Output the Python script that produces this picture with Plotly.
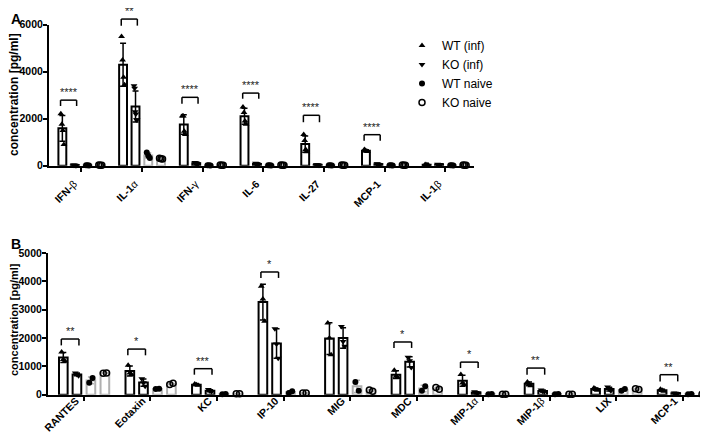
import numpy as np
import plotly.graph_objects as go

# Panel A - cytokines
cats_a = ["IFN-β", "IL-1α", "IFN-γ", "IL-6", "IL-27", "MCP-1", "IL-1β"]
ticks_a = ["<b>IFN-</b>β", "<b>IL-1</b>α", "<b>IFN-</b>γ", "<b>IL-6</b>",
           "<b>IL-27</b>", "<b>MCP-1</b>", "<b>IL-1</b>β"]
wt_inf_a = [[2210, 1760, 1500, 900], [5500, 4500, 3760, 3440], [2110, 2110, 1470, 1330],
            [2500, 2260, 1900, 1760], [1330, 1070, 690, 590], [690, 650, 620, 600],
            [50, 40, 35, 30]]
ko_inf_a = [[25, 20, 18, 15, 12, 10], [3400, 3300, 2300, 2200, 1950, 1950],
            [140, 120, 110, 100, 80, 60], [100, 90, 80, 70, 60, 50],
            [40, 35, 30, 25, 20, 20], [80, 70, 60, 55, 50, 45], [60, 55, 50, 45, 40, 40]]
wt_naive_a = [[20, 15, 10], [560, 420, 330], [20, 15, 10], [20, 15, 10],
              [20, 15, 10], [20, 15, 10], [20, 15, 10]]
ko_naive_a = [[25, 20, 15], [320, 300, 280], [25, 20, 15], [25, 20, 15],
              [25, 20, 15], [25, 20, 15], [25, 20, 15]]
# (category index, label, bracket top, bracket leg end)
sig_a = [(0, "****", 2790, 2540), (1, "**", 6240, 5960), (2, "****", 2910, 2640),
         (3, "****", 3090, 2850), (4, "****", 2145, 1850), (5, "****", 1320, 1065)]

# Panel B - chemokines
cats_b = ["RANTES", "Eotaxin", "KC", "IP-10", "MIG", "MDC", "MIP-1α", "MIP-1β", "LIX", "MCP-1"]
ticks_b = ["<b>RANTES</b>", "<b>Eotaxin</b>", "<b>KC</b>", "<b>IP-10</b>", "<b>MIG</b>",
           "<b>MDC</b>", "<b>MIP-1</b>α", "<b>MIP-1</b>β", "<b>LIX</b>", "<b>MCP-1</b>"]
wt_inf_b = [[1510, 1240, 1180], [1040, 770, 710], [380, 350, 330], [3830, 3380, 2590],
            [2530, 2000, 1410], [860, 650, 610], [710, 410, 350], [450, 380, 320],
            [240, 200, 160], [190, 160, 120]]
ko_inf_b = [[770, 710, 670], [560, 420, 300], [180, 130, 110], [2330, 1790, 1290],
            [2410, 1880, 1710], [1320, 1200, 960], [100, 80, 60], [165, 120, 100],
            [270, 190, 140], [60, 50, 40]]
wt_naive_b = [[420, 590], [200, 210], [20, 25], [60, 120], [450, 140], [140, 300],
              [20, 25], [20, 25], [140, 200], [20, 25]]
ko_naive_b = [[760, 770], [360, 400], [30, 35], [60, 60], [170, 120], [250, 190],
              [20, 20], [20, 20], [210, 180], [20, 20]]
sig_b = [(0, "**", 1965, 1740), (1, "*", 1610, 1390), (2, "***", 918, 706),
         (3, "*", 4330, 4120), (5, "*", 1860, 1650), (6, "*", 1150, 940),
         (7, "**", 940, 706), (9, "**", 706, 470)]

names = ["WT (inf)", "KO (inf)", "WT naive", "KO naive"]

W, H = 708, 433
FONT = "Arial, Liberation Sans, sans-serif"
offsets = [-0.31, -0.105, 0.105, 0.315]
symbols = ["triangle-up", "triangle-down", "circle", "circle-open"]
edge = ["black", "black", "#b0b0b0", "#b0b0b0"]

fig = go.Figure()


def add_panel(groups, xa, ya, legend):
    for g, pts in enumerate(groups):
        x = np.arange(len(pts)) + offsets[g]
        means = [np.mean(p) for p in pts]
        sds = [np.std(p, ddof=1) for p in pts]
        fig.add_trace(go.Bar(
            x=x, y=means, width=0.13, xaxis=xa, yaxis=ya, showlegend=False,
            marker=dict(color="white", line=dict(color=edge[g], width=2)),
            error_y=dict(type="data", array=sds, color=edge[g], thickness=1.5, width=3)))
        px, py = [], []
        for i, p in enumerate(pts):
            spread = np.linspace(-0.025, 0.025, len(p))
            px += list(i + offsets[g] + spread)
            py += list(p)
        fig.add_trace(go.Scatter(
            x=px, y=py, mode="markers", name=names[g], xaxis=xa, yaxis=ya,
            showlegend=legend, cliponaxis=False,
            marker=dict(symbol=symbols[g], size=6, color="black",
                        line=dict(color="black", width=1.5 if g == 3 else 0))))


add_panel([wt_inf_a, ko_inf_a, wt_naive_a, ko_naive_a], "x", "y", True)
add_panel([wt_inf_b, ko_inf_b, wt_naive_b, ko_naive_b], "x2", "y2", False)

# significance brackets; y given in data units, placed on the axis domain so
# the ones above the top of the axis are still drawn
shapes, annos = [], []
for sig, xr, yr, ymax in [(sig_a, "x", "y", 6000), (sig_b, "x2", "y2", 5000)]:
    for i, lab, top, leg in sig:
        x0, x1 = i + offsets[0] - 0.03, i + offsets[1] + 0.03
        ln = dict(color="black", width=1.5)
        shapes += [
            dict(type="line", xref=xr, yref=yr + " domain", x0=x0, x1=x1,
                 y0=top / ymax, y1=top / ymax, line=ln),
            dict(type="line", xref=xr, yref=yr + " domain", x0=x0, x1=x0,
                 y0=top / ymax, y1=leg / ymax, line=ln),
            dict(type="line", xref=xr, yref=yr + " domain", x0=x1, x1=x1,
                 y0=top / ymax, y1=leg / ymax, line=ln),
        ]
        annos.append(dict(x=(x0 + x1) / 2, y=top / ymax, xref=xr, yref=yr + " domain",
                          text=lab, showarrow=False, yanchor="bottom",
                          font=dict(size=11, color="#222222", family=FONT)))

annos += [
    dict(x=0, y=1, xref="paper", yref="paper", text="<b>A</b>", xshift=1, yshift=-1,
         showarrow=False, xanchor="left", yanchor="top", font=dict(size=14, family=FONT, color="black")),
    dict(x=0, y=1 - 226 / H, xref="paper", yref="paper", text="<b>B</b>", xshift=1,
         showarrow=False, xanchor="left", yanchor="top", font=dict(size=14, family=FONT, color="black")),
    dict(x=6 / W, y=1 - 87 / H, xref="paper", yref="paper", text="<b>concentration [pg/ml]</b>",
         textangle=-90, showarrow=False, xanchor="center", yanchor="middle",
         font=dict(size=12, family=FONT, color="black")),
    dict(x=6 / W, y=1 - 312 / H, xref="paper", yref="paper", text="<b>concentration [pg/ml]</b>",
         textangle=-90, showarrow=False, xanchor="center", yanchor="middle",
         font=dict(size=11, family=FONT, color="black")),
]

axis_style = dict(showline=True, linewidth=2, linecolor="black", ticks="outside",
                  ticklen=4, tickwidth=2, tickcolor="black", showgrid=False,
                  zeroline=False, automargin=False)

fig.update_layout(
    width=W, height=H, margin=dict(l=0, r=0, t=0, b=0),
    paper_bgcolor="white", plot_bgcolor="white", barmode="overlay",
    font=dict(family=FONT, color="black"),
    xaxis=dict(domain=[41 / W, 466 / W], range=[-0.53, 6.47], anchor="y",
               tickvals=list(range(len(cats_a))), ticktext=ticks_a, tickangle=-45,
               tickfont=dict(size=10.5), ticklabelstandoff=2, ticklabelshift=-7,
               **axis_style),
    yaxis=dict(domain=[1 - 157.7 / H, 1 - 16.7 / H], range=[0, 6000], anchor="x",
               tickvals=[0, 2000, 4000, 6000],
               ticktext=["<b>0</b>", "<b>2000</b>", "<b>4000</b>", "<b>6000</b>"],
               tickfont=dict(size=10.5), ticklabelstandoff=-2, **axis_style),
    xaxis2=dict(domain=[40 / W, 1.0], range=[-0.54, 9.5], anchor="y2",
                tickvals=list(range(len(cats_b))), ticktext=ticks_b, tickangle=-45,
                tickfont=dict(size=10.5), ticklabelstandoff=-10, ticklabelshift=-8,
                **axis_style),
    yaxis2=dict(domain=[1 - 386.7 / H, 1 - 245 / H], range=[0, 5000], anchor="x2",
                tickvals=[0, 1000, 2000, 3000, 4000, 5000],
                ticktext=["<b>%d</b>" % v for v in [0, 1000, 2000, 3000, 4000, 5000]],
                tickfont=dict(size=10.5), ticklabelstandoff=-2, **axis_style),
    legend=dict(x=394 / W, y=1 - 23 / H, xanchor="left", yanchor="top",
                font=dict(size=12, family=FONT), bgcolor="rgba(0,0,0,0)",
                itemwidth=30),
    shapes=shapes, annotations=annos,
)

fig.write_html("out.html")
